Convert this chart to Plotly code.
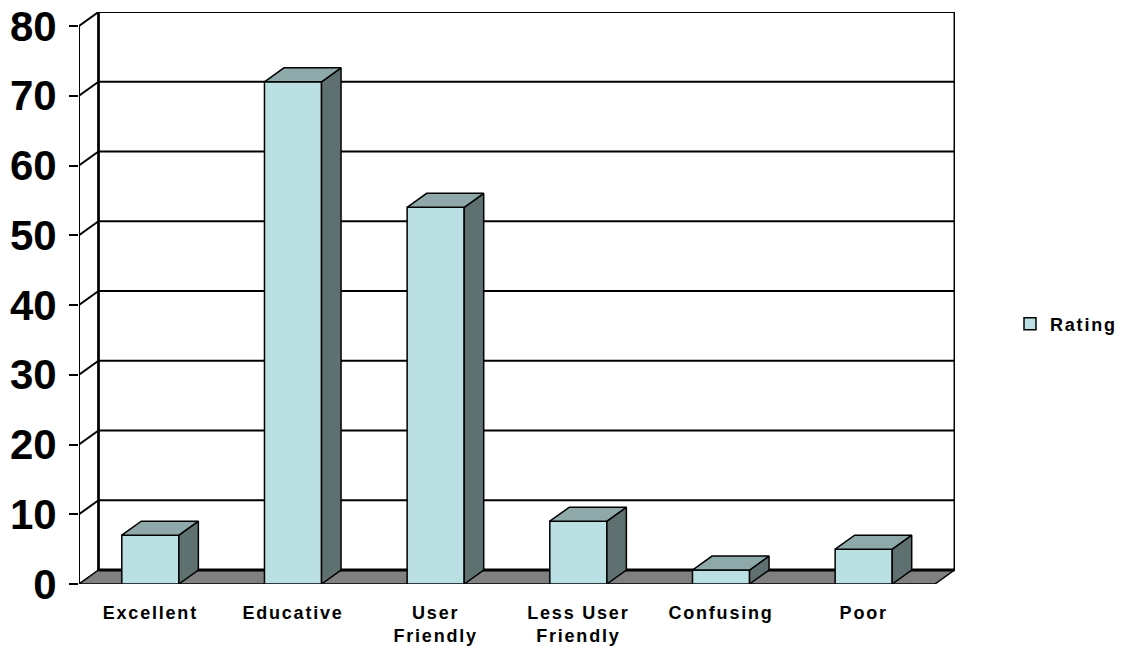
import plotly.graph_objects as go

# ---- data -------------------------------------------------------------
categories = ["Excellent", "Educative", "User Friendly",
              "Less User Friendly", "Confusing", "Poor"]
tick_labels = ["Excellent", "Educative", "User<br>Friendly",
               "Less User<br>Friendly", "Confusing", "Poor"]
ratings = [7, 72, 54, 9, 2, 5]
y_ticks = [0, 10, 20, 30, 40, 50, 60, 70, 80]
series_name = "Rating"

# ---- geometry of the pseudo-3D box ---------------------------------
W, H = 1131, 655
M_L, M_R, M_T, M_B = 79, 176, 12, 71
plot_w = W - M_L - M_R
plot_h = H - M_T - M_B
cat_px = 142.67            # pixels per category slot
val_px = 6.975             # pixels per value unit
x_lo = -0.5
x_hi = x_lo + plot_w / cat_px
y_hi = plot_h / val_px
n = len(categories)
x_end = n - 0.5
y_top = max(y_ticks)

dx = 19.5 / cat_px         # depth offset, x units
dy = 14.0 / val_px         # depth offset, y units
half = 0.2                 # half bar width

FRONT = "#BBE0E3"
TOP = "#8FA9AB"
SIDE = "#5F7071"
FLOOR = "#808080"
FONT = "Liberation Sans, Arial, sans-serif"


def spaced(text, px=1.8):
    return "<br>".join(
        f"<span style='letter-spacing:{px}px'>{line}</span>"
        for line in text.split("<br>"))


shapes = []
# back wall
shapes.append(dict(type="rect", xref="x", yref="y", layer="below",
                   x0=x_lo + dx, x1=x_end + dx, y0=dy, y1=y_top + dy,
                   fillcolor="white", line=dict(color="black", width=2)))
# gridlines on the back wall and slanted lines on the side wall
for v in y_ticks[1:]:
    shapes.append(dict(type="line", xref="x", yref="y", layer="below",
                       x0=x_lo + dx, x1=x_end + dx, y0=v + dy, y1=v + dy,
                       line=dict(color="black", width=2)))
    shapes.append(dict(type="line", xref="x", yref="y", layer="below",
                       x0=x_lo, x1=x_lo + dx, y0=v, y1=v + dy,
                       line=dict(color="black", width=2)))
# left edge of back wall
shapes.append(dict(type="line", xref="x", yref="y", layer="below",
                   x0=x_lo + dx, x1=x_lo + dx, y0=dy, y1=y_top + dy,
                   line=dict(color="black", width=2.5)))
# front value axis line
shapes.append(dict(type="line", xref="x", yref="y", layer="below",
                   x0=x_lo, x1=x_lo, y0=0, y1=y_top,
                   line=dict(color="black", width=2)))
# floor
shapes.append(dict(type="path", xref="x", yref="y", layer="below",
                   path=(f"M{x_lo},0 L{x_end},0 L{x_end + dx},{dy} "
                         f"L{x_lo + dx},{dy} Z"),
                   fillcolor=FLOOR, line=dict(color="black", width=1.5)))
shapes.append(dict(type="line", xref="x", yref="y", layer="below",
                   x0=x_lo + dx, x1=x_end + dx, y0=dy, y1=dy,
                   line=dict(color="black", width=3)))

# side and top faces of each column
side_x, side_y, top_x, top_y = [], [], [], []
for i, v in enumerate(ratings):
    r = i + half
    l = i - half
    side_x += [r, r + dx, r + dx, r, r, None]
    side_y += [0, dy, v + dy, v, 0, None]
    top_x += [l, r, r + dx, l + dx, l, None]
    top_y += [v, v, v + dy, v + dy, v, None]

fig = go.Figure()
fig.add_trace(go.Bar(
    x=list(range(n)), y=ratings, width=2 * half, name=spaced(series_name),
    marker=dict(color=FRONT, line=dict(color="black", width=1.5)),
    hoverinfo="skip", showlegend=True))
fig.add_trace(go.Scatter(
    x=side_x, y=side_y, mode="lines", fill="toself", fillcolor=SIDE,
    line=dict(color="black", width=1.5), hoverinfo="skip", showlegend=False))
fig.add_trace(go.Scatter(
    x=top_x, y=top_y, mode="lines", fill="toself", fillcolor=TOP,
    line=dict(color="black", width=1.5), hoverinfo="skip", showlegend=False))

fig.update_layout(
    width=W, height=H,
    margin=dict(l=M_L, r=M_R, t=M_T, b=M_B, pad=0, autoexpand=False),
    paper_bgcolor="white", plot_bgcolor="white",
    shapes=shapes,
    showlegend=True,
    legend=dict(xref="container", yref="container",
                x=1010 / W, y=1 - 324 / H, xanchor="left", yanchor="middle",
                font=dict(family=FONT, size=18, color="black", weight="bold"),
                bgcolor="rgba(0,0,0,0)"),
    xaxis=dict(range=[x_lo, x_hi], tickmode="array",
               tickvals=list(range(n)),
               ticktext=[spaced(t) for t in tick_labels],
               showgrid=False, zeroline=False, showline=False,
               ticks="", ticklabelstandoff=16, automargin=False,
               tickfont=dict(family=FONT, size=18, color="black",
                             weight="bold"),
               fixedrange=True),
    yaxis=dict(range=[0, y_hi], tickmode="array", tickvals=y_ticks,
               showgrid=False, zeroline=False, showline=False,
               ticks="outside", ticklen=9, tickwidth=2, tickcolor="black",
               ticklabelstandoff=4, automargin=False,
               tickfont=dict(family=FONT, size=42, color="black",
                             weight="bold"),
               fixedrange=True),
)

fig.write_html("out.html")
